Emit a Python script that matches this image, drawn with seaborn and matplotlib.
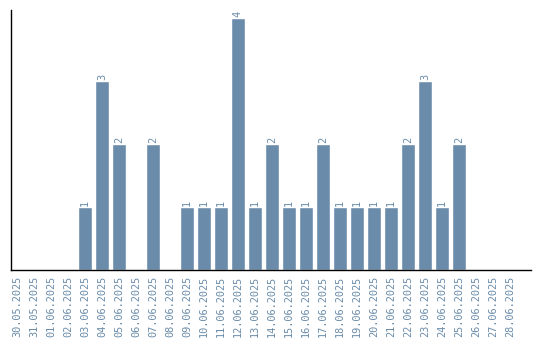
import matplotlib
matplotlib.use("Agg")
import matplotlib.pyplot as plt
import seaborn as sns
import pandas as pd

dates = ["30.05.2025", "31.05.2025", "01.06.2025", "02.06.2025", "03.06.2025",
         "04.06.2025", "05.06.2025", "06.06.2025", "07.06.2025", "08.06.2025",
         "09.06.2025", "10.06.2025", "11.06.2025", "12.06.2025", "13.06.2025",
         "14.06.2025", "15.06.2025", "16.06.2025", "17.06.2025", "18.06.2025",
         "19.06.2025", "20.06.2025", "21.06.2025", "22.06.2025", "23.06.2025",
         "24.06.2025", "25.06.2025", "26.06.2025", "27.06.2025", "28.06.2025"]
counts = [0, 0, 0, 0, 1, 3, 2, 0, 2, 0, 1, 1, 1, 4, 1, 2, 1, 1, 2, 1,
          1, 1, 1, 2, 3, 1, 2, 0, 0, 0]

df = pd.DataFrame({"date": dates, "count": counts})
color = "#6a8caa"

sns.set_style("white")
plt.rcParams["font.family"] = ["DejaVu Sans Mono"]

fig = plt.figure(figsize=(5.4, 3.4), dpi=100)
ax = fig.add_axes([11 / 540, 70 / 340, 520 / 540, 260 / 340])
sns.barplot(data=df, x="date", y="count", color=color, width=0.82,
            saturation=1, ax=ax)

for i, v in enumerate(counts):
    if v > 0:
        ax.text(i, v + 0.02, str(v), rotation=90, ha="center", va="bottom",
                color=color, fontsize=7.4)

ax.set_xlim(-0.35, 30.24)
ax.set_ylim(0, 4.13)
ax.set_yticks([])
ax.set_xlabel("")
ax.set_ylabel("")
ax.tick_params(axis="x", length=0, pad=4, labelsize=7.4, labelcolor=color)
plt.setp(ax.get_xticklabels(), rotation=90)
for s in ["top", "right"]:
    ax.spines[s].set_visible(False)
for s in ["left", "bottom"]:
    ax.spines[s].set_color("black")
    ax.spines[s].set_linewidth(1)

fig.savefig("out.png", dpi=100)
